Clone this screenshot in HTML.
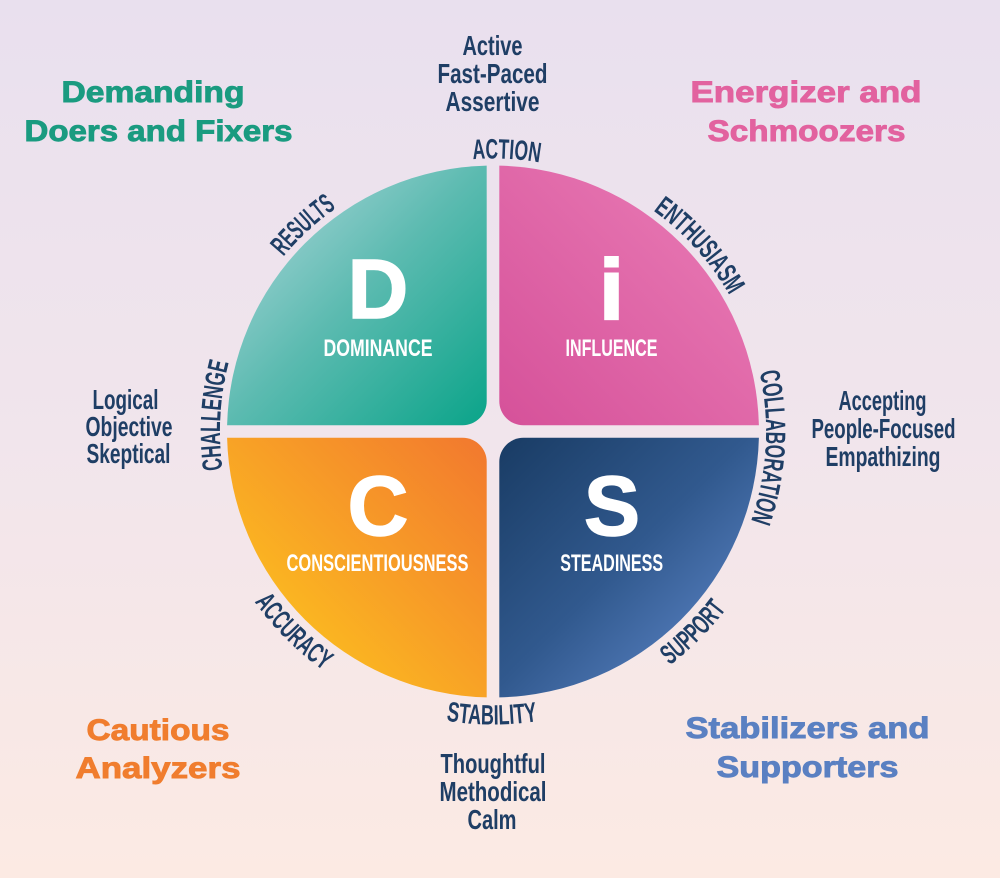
<!DOCTYPE html>
<html>
<head>
<meta charset="utf-8">
<style>
  html, body { margin: 0; padding: 0; }
  body { width: 1000px; height: 878px; overflow: hidden; }
  svg { display: block; }
  .hd { font-family: "Liberation Sans", "DejaVu Sans", sans-serif; font-weight: bold; font-size: 30px; text-anchor: middle; stroke-width: 0.9px; paint-order: stroke; }
  .ds { font-family: "Liberation Sans Narrow", "Liberation Sans", sans-serif; font-weight: bold; font-size: 28px; fill: #1f3e65; text-anchor: middle; }
  .rg { font-family: "Liberation Sans Narrow", "Liberation Sans", sans-serif; font-weight: bold; font-size: 28px; fill: #1f3e65; }
  .ql { font-family: "Liberation Sans Narrow", "Liberation Sans", sans-serif; font-weight: bold; font-size: 24px; fill: #ffffff; text-anchor: middle; }
  .bg { font-family: "Liberation Sans", "DejaVu Sans", sans-serif; font-weight: bold; font-size: 84px; fill: #ffffff; text-anchor: middle; }
</style>
</head>
<body>
<svg width="1000" height="878" viewBox="0 0 1000 878" xmlns="http://www.w3.org/2000/svg">
  <defs>
    <linearGradient id="bgG" x1="0" y1="0" x2="0" y2="1">
      <stop offset="0" stop-color="#e9e0ee"/>
      <stop offset="0.5" stop-color="#f1e5ec"/>
      <stop offset="1" stop-color="#fceae3"/>
    </linearGradient>
    <linearGradient id="gD" gradientUnits="userSpaceOnUse" x1="250" y1="190" x2="480" y2="420">
      <stop offset="0" stop-color="#a9d5d8"/>
      <stop offset="0.45" stop-color="#5dbbb1"/>
      <stop offset="1" stop-color="#0ea58b"/>
    </linearGradient>
    <linearGradient id="gI" gradientUnits="userSpaceOnUse" x1="505" y1="420" x2="740" y2="190">
      <stop offset="0" stop-color="#d6529a"/>
      <stop offset="1" stop-color="#e97bb5"/>
    </linearGradient>
    <linearGradient id="gC" gradientUnits="userSpaceOnUse" x1="480" y1="445" x2="245" y2="680">
      <stop offset="0" stop-color="#f27a2e"/>
      <stop offset="0.5" stop-color="#f8a126"/>
      <stop offset="1" stop-color="#fdca1c"/>
    </linearGradient>
    <linearGradient id="gS" gradientUnits="userSpaceOnUse" x1="505" y1="445" x2="740" y2="680">
      <stop offset="0" stop-color="#1a3d66"/>
      <stop offset="0.5" stop-color="#31598e"/>
      <stop offset="1" stop-color="#6089cc"/>
    </linearGradient>

    <path id="pAction" d="M263.5,283.6 A273,273 0 0 1 735.8,306.7"/>
    <path id="pResults" d="M226.6,491.0 A273,273 0 0 1 574.6,171.0"/>
    <path id="pEnth" d="M436.2,164.5 A273,273 0 0 1 752.6,515.9"/>
    <path id="pChal" d="M343.1,659.7 A273,273 0 0 1 370.3,187.6"/>
    <path id="pColl" d="M642.9,203.3 A273,273 0 0 1 615.7,675.4"/>
    <path id="pStab" d="M238.7,577.1 A293,293 0 0 0 746.2,578.9"/>
    <path id="pAcc" d="M209.8,356.2 A293,293 0 0 0 569.3,714.4"/>
    <path id="pSup" d="M416.7,714.4 A293,293 0 0 0 776.2,356.2"/>
  </defs>

  <rect x="0" y="0" width="1000" height="878" fill="url(#bgG)"/>

  <!-- Quadrants -->
  <path d="M227.1,425.2 A266,266 0 0 1 486.7,165.6 L486.7,401.2 A24,24 0 0 1 462.7,425.2 Z" fill="url(#gD)"/>
  <path d="M499.3,165.6 A266,266 0 0 1 758.9,425.2 L523.3,425.2 A24,24 0 0 1 499.3,401.2 Z" fill="url(#gI)"/>
  <path d="M758.9,437.8 A266,266 0 0 1 499.3,697.4 L499.3,461.8 A24,24 0 0 1 523.3,437.8 Z" fill="url(#gS)"/>
  <path d="M486.7,697.4 A266,266 0 0 1 227.1,437.8 L462.7,437.8 A24,24 0 0 1 486.7,461.8 Z" fill="url(#gC)"/>

  <!-- Big letters -->
  <text class="bg" x="378" y="318" stroke="#ffffff" stroke-width="1.5">D</text>
  <text class="bg" x="611.5" y="319" font-size="88" stroke="#ffffff" stroke-width="3">i</text>
  <text class="bg" x="378" y="535" stroke="#ffffff" stroke-width="1.5">C</text>
  <text class="bg" x="612" y="535" stroke="#ffffff" stroke-width="1.5">S</text>

  <!-- Quadrant labels -->
  <text class="ql" x="378" y="356" textLength="109" lengthAdjust="spacingAndGlyphs">DOMINANCE</text>
  <text class="ql" x="611.5" y="356" textLength="92" lengthAdjust="spacingAndGlyphs">INFLUENCE</text>
  <text class="ql" x="377.5" y="571" textLength="182" lengthAdjust="spacingAndGlyphs">CONSCIENTIOUSNESS</text>
  <text class="ql" x="611.7" y="571" textLength="103" lengthAdjust="spacingAndGlyphs">STEADINESS</text>

  <!-- Ring labels -->
  <text class="rg"><textPath href="#pAction" startOffset="50%" text-anchor="middle" textLength="67" lengthAdjust="spacingAndGlyphs">ACTION</textPath></text>
  <text class="rg"><textPath href="#pResults" startOffset="50%" text-anchor="middle" textLength="72" lengthAdjust="spacingAndGlyphs">RESULTS</textPath></text>
  <text class="rg"><textPath href="#pEnth" startOffset="50%" text-anchor="middle" textLength="115" lengthAdjust="spacingAndGlyphs">ENTHUSIASM</textPath></text>
  <text class="rg"><textPath href="#pChal" startOffset="50%" text-anchor="middle" textLength="108" lengthAdjust="spacingAndGlyphs">CHALLENGE</textPath></text>
  <text class="rg"><textPath href="#pColl" startOffset="50%" text-anchor="middle" textLength="151" lengthAdjust="spacingAndGlyphs">COLLABORATION</textPath></text>
  <text class="rg"><textPath href="#pStab" startOffset="50%" text-anchor="middle" textLength="92" lengthAdjust="spacingAndGlyphs">STABILITY</textPath></text>
  <text class="rg"><textPath href="#pAcc" startOffset="50%" text-anchor="middle" textLength="98" lengthAdjust="spacingAndGlyphs">ACCURACY</textPath></text>
  <text class="rg"><textPath href="#pSup" startOffset="50%" text-anchor="middle" textLength="80" lengthAdjust="spacingAndGlyphs">SUPPORT</textPath></text>

  <!-- Descriptors -->
  <text class="ds" x="492.5" y="55" textLength="60" lengthAdjust="spacingAndGlyphs">Active</text>
  <text class="ds" x="492.5" y="83" textLength="110" lengthAdjust="spacingAndGlyphs">Fast-Paced</text>
  <text class="ds" x="492.5" y="111" textLength="94" lengthAdjust="spacingAndGlyphs">Assertive</text>

  <text class="ds" x="125.5" y="409" textLength="66" lengthAdjust="spacingAndGlyphs">Logical</text>
  <text class="ds" x="129" y="436" textLength="87" lengthAdjust="spacingAndGlyphs">Objective</text>
  <text class="ds" x="128.5" y="463" textLength="84" lengthAdjust="spacingAndGlyphs">Skeptical</text>

  <text class="ds" x="882.5" y="410" textLength="88" lengthAdjust="spacingAndGlyphs">Accepting</text>
  <text class="ds" x="883.5" y="438" textLength="144" lengthAdjust="spacingAndGlyphs">People-Focused</text>
  <text class="ds" x="883" y="466" textLength="115" lengthAdjust="spacingAndGlyphs">Empathizing</text>

  <text class="ds" x="493" y="773" textLength="105" lengthAdjust="spacingAndGlyphs">Thoughtful</text>
  <text class="ds" x="493" y="801" textLength="107" lengthAdjust="spacingAndGlyphs">Methodical</text>
  <text class="ds" x="492" y="829" textLength="49" lengthAdjust="spacingAndGlyphs">Calm</text>

  <!-- Corner headings -->
  <text class="hd" x="153" y="102" fill="#1a9b80" stroke="#1a9b80" textLength="183" lengthAdjust="spacingAndGlyphs">Demanding</text>
  <text class="hd" x="158.5" y="141" fill="#1a9b80" stroke="#1a9b80" textLength="268" lengthAdjust="spacingAndGlyphs">Doers and Fixers</text>

  <text class="hd" x="806" y="102" fill="#e2629f" stroke="#e2629f" textLength="231" lengthAdjust="spacingAndGlyphs">Energizer and</text>
  <text class="hd" x="806.5" y="141" fill="#e2629f" stroke="#e2629f" textLength="198" lengthAdjust="spacingAndGlyphs">Schmoozers</text>

  <text class="hd" x="158" y="740" fill="#f07d2e" stroke="#f07d2e" textLength="143" lengthAdjust="spacingAndGlyphs">Cautious</text>
  <text class="hd" x="158" y="778" fill="#f07d2e" stroke="#f07d2e" textLength="165" lengthAdjust="spacingAndGlyphs">Analyzers</text>

  <text class="hd" x="807.5" y="738" fill="#5a80c2" stroke="#5a80c2" textLength="244" lengthAdjust="spacingAndGlyphs">Stabilizers and</text>
  <text class="hd" x="807.5" y="777" fill="#5a80c2" stroke="#5a80c2" textLength="182" lengthAdjust="spacingAndGlyphs">Supporters</text>
</svg>
</body>
</html>
